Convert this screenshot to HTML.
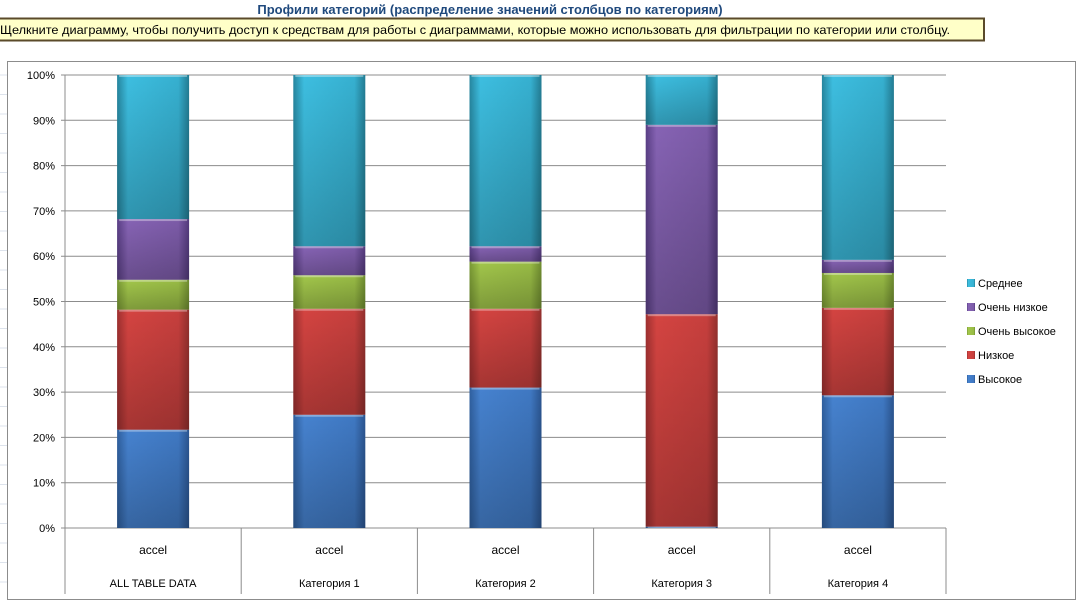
<!DOCTYPE html>
<html><head><meta charset="utf-8"><style>
body{margin:0;width:1076px;height:602px;background:#fff;overflow:hidden;font-family:"Liberation Sans","DejaVu Sans",sans-serif;}
</style></head><body>
<svg width="1076" height="602" xmlns="http://www.w3.org/2000/svg">
<defs>
<linearGradient id="g0" x1="0" y1="0" x2="1" y2="0"><stop offset="0" stop-color="#2f5f9e"/><stop offset="0.15" stop-color="#4682cf"/><stop offset="0.85" stop-color="#3f78c2"/><stop offset="1" stop-color="#2b5590"/></linearGradient>
<linearGradient id="g1" x1="0" y1="0" x2="1" y2="0"><stop offset="0" stop-color="#9e3030"/><stop offset="0.15" stop-color="#d44441"/><stop offset="0.85" stop-color="#c63f3d"/><stop offset="1" stop-color="#92302d"/></linearGradient>
<linearGradient id="g2" x1="0" y1="0" x2="1" y2="0"><stop offset="0" stop-color="#799934"/><stop offset="0.15" stop-color="#a2c64b"/><stop offset="0.85" stop-color="#98bb45"/><stop offset="1" stop-color="#6f8c30"/></linearGradient>
<linearGradient id="g3" x1="0" y1="0" x2="1" y2="0"><stop offset="0" stop-color="#5a3f86"/><stop offset="0.15" stop-color="#8663b4"/><stop offset="0.85" stop-color="#7c5ba8"/><stop offset="1" stop-color="#533a7c"/></linearGradient>
<linearGradient id="g4" x1="0" y1="0" x2="1" y2="0"><stop offset="0" stop-color="#26869f"/><stop offset="0.15" stop-color="#3dbee0"/><stop offset="0.85" stop-color="#36b0d0"/><stop offset="1" stop-color="#237c93"/></linearGradient>
<linearGradient id="shade" x1="0" y1="0" x2="0" y2="1"><stop offset="0" stop-color="#000" stop-opacity="0"/><stop offset="1" stop-color="#000" stop-opacity="0.22"/></linearGradient>
</defs>
<g stroke="#dde3ec" stroke-width="1"></g>
<text x="490" y="14" text-anchor="middle" font-size="13" font-weight="bold" fill="#1f497d">Профили категорий (распределение значений столбцов по категориям)</text>
<rect x="-2" y="18.5" width="986" height="22" fill="#ffffc8" stroke="#5a4a2a" stroke-width="2"/>
<text x="0" y="34" font-size="12.3" fill="#000" textLength="950" lengthAdjust="spacingAndGlyphs">Щелкните диаграмму, чтобы получить доступ к средствам для работы с диаграммами, которые можно использовать для фильтрации по категории или столбцу.</text>
<rect x="7.5" y="61.5" width="1068" height="538" fill="#fff" stroke="#8c8c8c"/>
<g id="plot"></g>
<g id="legend"></g>
</svg>
<script>
const categories=["ALL TABLE DATA","Категория 1","Категория 2","Категория 3","Категория 4"];
const seriesNames=["Высокое","Низкое","Очень высокое","Очень низкое","Среднее"];
const vysokoe=[21.7,25.0,31.0,0.3,29.3];
const nizkoe=[26.5,23.4,17.4,46.9,19.3];
const ochenVysokoe=[6.6,7.4,10.4,0,7.7];
const ochenNizkoe=[13.4,6.4,3.4,41.8,2.9];
const srednee=[31.8,37.8,37.8,11.0,40.8];
const yTicks=["0%","10%","20%","30%","40%","50%","60%","70%","80%","90%","100%"];
const NS="http://www.w3.org/2000/svg";
const svg=document.querySelector('svg');
const plot=document.getElementById('plot');
const X0=65,X1=946,Y0=528,Y1=75;
const bw=(X1-X0)/categories.length;
const y=v=>Y0-(v/100)*(Y0-Y1);
const xc=i=>X0+bw*(i+0.5);
function mk(tag,at,parent){const e=document.createElementNS(NS,tag);for(const k in at)e.setAttribute(k,at[k]);parent.appendChild(e);return e;}
const sg=svg.querySelector('g');
for(let yy=75;yy<600;yy+=19.5){const l=mk('line',{x1:0,x2:7,y1:yy,y2:yy},sg);

}
yTicks.forEach((t,i)=>{const v=i*10;
const l=mk('line',{x1:X0-4,x2:X1,y1:y(v),y2:y(v),stroke:'#8c8c8c','stroke-width':1},plot);


const tx=mk('text',{x:X0-10,y:y(v)+4,'text-anchor':'end','font-size':11,fill:'#000'},plot);tx.textContent=t;

});
const ax=mk('line',{x1:X0,x2:X0,y1:Y1,y2:Y0,stroke:'#8c8c8c'},plot);


for(let i=0;i<=categories.length;i++){const l=mk('line',{x1:X0+bw*i,x2:X0+bw*i,y1:Y0,y2:594,stroke:'#8c8c8c'},plot);

}
const series=[vysokoe,nizkoe,ochenVysokoe,ochenNizkoe,srednee];
categories.forEach((c,i)=>{let acc=0;
series.forEach((s,k)=>{const v=s[i];if(v<=0){return;}
const top=y(acc+v),bot=y(acc);
const r=mk('rect',{x:xc(i)-36,y:top,width:72,height:bot-top,fill:'url(#g'+k+')'},plot);


const sh=mk('rect',{x:xc(i)-36,y:top,width:72,height:bot-top,fill:'url(#shade)'},plot);


const hl=mk('rect',{x:xc(i)-34,y:top,width:68,height:Math.min(2,bot-top),fill:'#fff','fill-opacity':0.35},plot);


acc+=v;});
const t1=mk('text',{x:xc(i),y:554,'text-anchor':'middle','font-size':12,fill:'#000'},plot);t1.textContent='accel';


const t2=mk('text',{x:xc(i),y:587,'text-anchor':'middle','font-size':11,fill:'#000'},plot);t2.textContent=c;

});
const lg=document.getElementById('legend');
const order=[4,3,2,1,0];
order.forEach((k,j)=>{const yy=283+j*24;
const s=mk('rect',{x:967,y:yy-4,width:8,height:8,fill:'url(#g'+k+')'},lg);


const t=mk('text',{x:978,y:yy+4,'font-size':11,fill:'#000'},lg);t.textContent=seriesNames[k];

});
</script>
</body></html>
